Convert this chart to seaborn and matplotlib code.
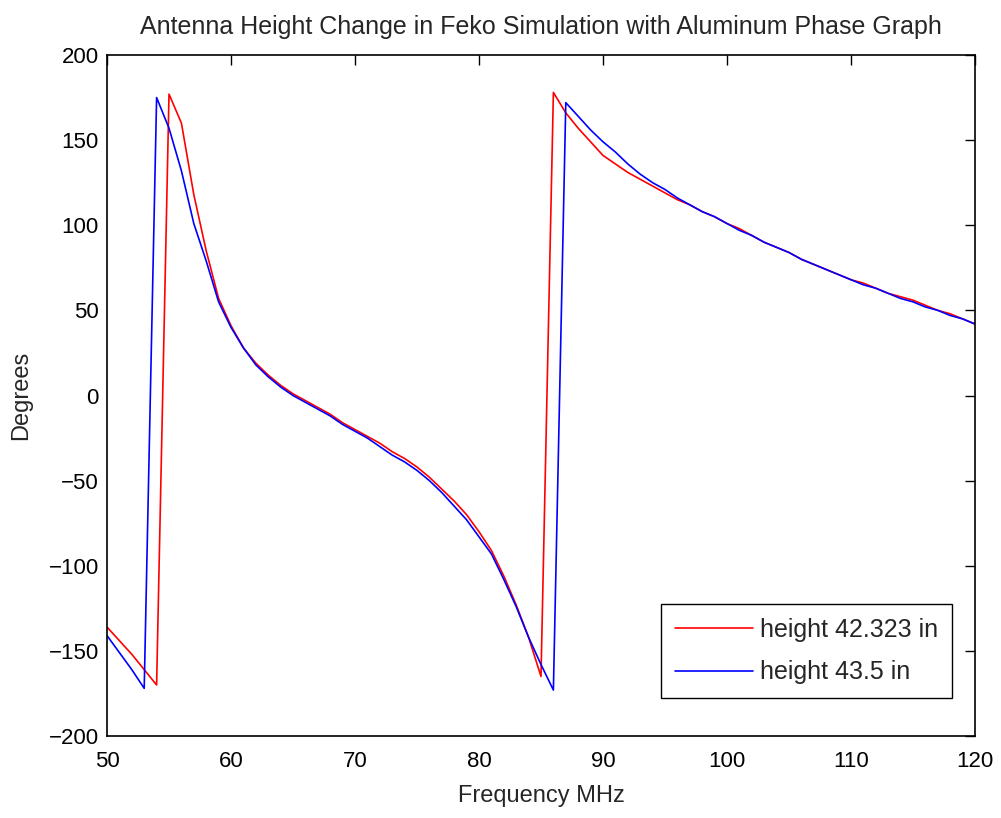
import numpy as np
import pandas as pd
import matplotlib
matplotlib.use("Agg")
import matplotlib.pyplot as plt
import seaborn as sns

sns.set_theme(style="white")
plt.rcParams['font.family'] = ['Liberation Sans', 'DejaVu Sans']

# phase data (1 MHz steps)
freq = list(range(50, 121))

phase_42 = [-136, -144, -152, -161, -170, 177, 160, 118, 85, 57,
            41, 28, 19, 12, 6, 1, -3, -7, -11, -16,
            -20, -24, -28, -33, -37, -42, -48, -55, -62, -70,
            -80, -91, -106, -123, -142, -165, 178, 166, 157, 149,
            141, 136, 131, 127, 123, 119, 115, 112, 108, 105,
            101, 98, 94, 90, 87, 84, 80, 77, 74, 71,
            68, 66, 63, 60, 58, 56, 53, 50, 48, 45,
            42]

phase_435 = [-141, -151, -161, -172, 175, 157, 132, 101, 79, 55,
             40, 28, 18, 11, 5, 0, -4, -8, -12, -17,
             -21, -25, -30, -35, -39, -44, -50, -57, -65, -73,
             -83, -93, -108, -124, -142, -158, -173, 172, 164, 156,
             149, 143, 136, 130, 125, 121, 116, 112, 108, 105,
             101, 97, 94, 90, 87, 84, 80, 77, 74, 71,
             68, 65, 63, 60, 57, 55, 52, 50, 47, 45,
             42]

labels = ['height 42.323 in', 'height 43.5 in']

df = pd.concat([
    pd.DataFrame({'Frequency': freq, 'Phase': phase_42, 'Height': labels[0]}),
    pd.DataFrame({'Frequency': freq, 'Phase': phase_435, 'Height': labels[1]}),
])

fig = plt.figure(figsize=(10.01, 8.18), dpi=100)
ax = fig.add_axes([0.1069, 0.1002, 0.8671, 0.8326])

sns.lineplot(data=df, x='Frequency', y='Phase', hue='Height',
             palette={labels[0]: 'red', labels[1]: 'blue'},
             estimator=None, sort=False, linewidth=1.2, ax=ax)

ax.set_xlim(50, 120)
ax.set_ylim(-200, 200)
ax.set_xticks(range(50, 121, 10))
ax.set_yticks(range(-200, 201, 50))
ax.tick_params(direction='in', top=True, right=True, length=7,
               width=1, labelsize=16, colors='black')
ax.tick_params(axis='x', pad=11)
ax.tick_params(axis='y', pad=6)
for s in ax.spines.values():
    s.set_color('black')
    s.set_linewidth(1.2)

ax.set_title('Antenna Height Change in Feko Simulation with Aluminum Phase Graph',
             fontsize=18, pad=15)
ax.set_xlabel('Frequency MHz', fontsize=17, labelpad=9)
ax.set_ylabel('Degrees', fontsize=17, labelpad=12)

leg = ax.legend(loc='lower right', bbox_to_anchor=(0.9735, 0.0558),
                borderaxespad=0, fontsize=18, handlelength=3.1,
                handletextpad=0.3, labelspacing=0.75, borderpad=0.55,
                frameon=True, fancybox=False, framealpha=1,
                edgecolor='black', title=None)
leg.get_frame().set_linewidth(1.0)

fig.savefig('out.png', dpi=100, facecolor='white')
